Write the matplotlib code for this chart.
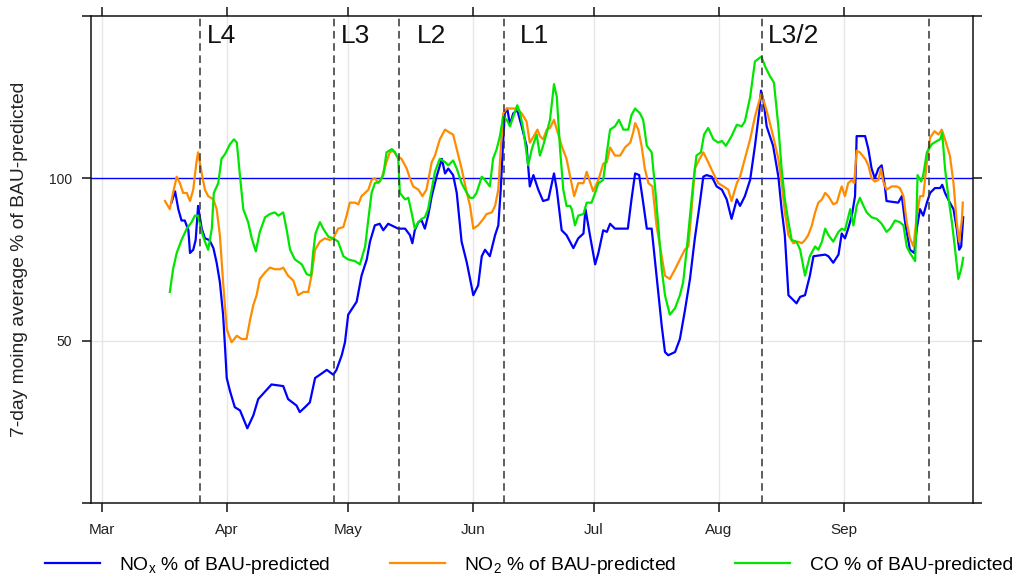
import datetime as dt
import numpy as np
import matplotlib
matplotlib.use("Agg")
import matplotlib.pyplot as plt
import matplotlib.dates as mdates

plt.rcParams["font.family"] = ["Liberation Sans", "DejaVu Sans"]
plt.rcParams["mathtext.fontset"] = "custom"
plt.rcParams["mathtext.rm"] = "Liberation Sans"
plt.rcParams["mathtext.it"] = "Liberation Sans:italic"

START = dt.datetime(2020, 3, 1)

# days after 1 March 2020, 7-day moving averages (% of BAU-predicted)
nox_days = [17.3, 18.2, 19.0, 19.8, 20.6, 21.5, 21.9, 22.7, 23.3, 23.9, 24.8, 25.6, 26.7, 27.7, 28.5,
            29.3, 30.1, 30.6, 31.0, 31.8, 33.0, 34.3, 36.1, 37.6, 38.8, 42.1, 45.0, 46.2, 48.3, 49.1,
            50.4, 51.6, 52.9, 54.1, 55.8, 57.4, 58.2, 59.5, 60.3, 61.1, 62.4, 63.2, 64.4, 65.7, 66.5,
            67.7, 68.9, 69.8, 71.0, 73.5, 75.2, 76.4, 77.0, 77.6, 78.5, 79.3, 80.1, 80.9, 81.8, 83.0,
            84.3, 85.1, 85.9, 87.1, 88.0, 89.2, 90.5, 92.1, 93.3, 94.2, 95.0, 96.2, 97.5, 98.3, 98.9,
            99.4, 99.9, 100.5, 101.2, 102.0, 103.0, 104.1, 105.3, 106.1, 107.0, 108.2, 109.4, 110.7,
            112.1, 112.8, 114.0, 115.2, 116.9, 118.1, 119.4, 119.9, 121.0, 122.3, 123.1, 124.3, 125.2,
            126.0, 127.2, 130.4, 131.3, 132.2, 133.2, 134.2, 135.1, 136.3, 137.5, 138.8, 139.6, 140.4,
            142.1, 143.3, 144.5, 145.8, 147.0, 148.2, 149.1, 149.9, 151.2, 152.4, 153.7, 154.9, 156.1,
            157.4, 158.2, 159.4, 160.7, 161.9, 163.0, 163.4, 164.0, 164.8, 166.4, 167.7, 168.5, 169.3,
            170.2, 171.4, 172.2, 173.1, 174.3, 175.5, 176.4, 179.3, 180.1, 181.3, 182.6, 183.4, 184.2,
            185.0, 185.9, 186.7, 187.1, 189.2, 190.0, 190.8, 191.6, 192.5, 193.3, 194.1, 194.5, 197.4,
            198.3, 199.1, 200.3, 201.4, 202.0, 202.8, 203.6, 204.5, 205.3, 206.5, 207.8, 208.3, 209.0,
            210.2, 211.1, 211.9, 212.5, 213.0, 213.5]
nox_vals = [92.5, 96, 90.5, 87, 87, 84, 77, 78, 81, 91.5, 84.5, 81.5, 81, 78.5, 74,
            68, 58, 47.5, 38.5, 34.5, 29.5, 28.5, 23, 27, 32, 36.5, 36, 32, 30, 28,
            29.5, 31, 38.5, 39.5, 41, 39.5, 41, 45.5, 49.5, 58, 60.5, 62, 70, 75, 80.5,
            85.5, 86, 84, 86, 84.5, 84.5, 82.5, 80, 84, 86.5, 87, 84.5, 88.5, 94.5, 100.5,
            106, 101.5, 103, 101, 95.5, 80.5, 74, 64, 67, 76, 78, 76, 82.5, 85.5, 96.5,
            109, 120, 121.5, 116.5, 120, 121, 116, 110, 97.5, 101, 96.5, 93, 93.5,
            101.5, 96.5, 84, 82.5, 78.5, 81.5, 83, 90.5, 82.5, 73.5, 77, 84, 83.5,
            86, 84.5, 84.5, 93.5, 101.5, 101, 92.5, 84.5, 84.5, 70, 54.5, 46.5, 45.5,
            46.5, 50.5, 59, 69, 81.5, 92, 100.5, 101, 100.5, 97.5, 96.5, 93.5, 87.5,
            93.5, 91.5, 94.5, 99.5, 110, 121, 127, 124, 116, 110, 100.5, 90.5, 82.5,
            64, 62.5, 61.5, 63.5, 64, 70, 76, 76.5, 76, 74, 76.5, 83, 81.5,
            84.5, 88.5, 94.5, 113, 113, 109, 103, 100, 103, 104, 97.5, 93, 92.5,
            94.5, 86.5, 78, 77, 84.5, 90.5, 88.5, 92.5, 95.5, 97, 97, 98, 95.5,
            92.5, 90.5, 84.5, 78, 79, 88]

no2_days = [15.7, 16.9, 17.7, 18.6, 19.4, 20.2, 21.1, 21.9, 22.7, 23.5, 23.9, 24.8, 25.6, 26.4, 27.7,
            28.5, 29.3, 30.1, 31.0, 32.2, 33.5, 34.7, 35.9, 36.8, 37.6, 38.4, 39.2, 40.5, 41.7, 42.9,
            44.2, 45.0, 46.2, 47.5, 48.7, 50.0, 51.2, 52.0, 52.9, 54.1, 55.3, 56.6, 57.4, 58.6, 59.9,
            60.7, 61.5, 62.8, 63.6, 64.4, 65.3, 66.1, 66.9, 67.7, 68.6, 69.5, 70.6, 71.4, 72.3, 73.1,
            74.3, 75.6, 76.4, 77.2, 78.5, 79.5, 80.5, 81.8, 82.6, 83.8, 85.1, 86.3, 87.1, 88.0, 89.2,
            90.5, 91.3, 92.1, 93.3, 94.6, 95.4, 96.7, 97.5, 98.3, 98.9, 99.5, 100.4, 102.9, 104.1,
            105.3, 106.1, 107.1, 108.0, 108.6, 109.4, 110.3, 111.1, 112.1, 112.8, 114.0, 115.2, 116.1,
            117.1, 118.1, 119.4, 120.2, 121.0, 121.8, 123.1, 124.3, 125.2, 126.0, 127.2, 128.5, 129.7,
            131.0, 131.7, 132.2, 133.0, 133.8, 134.6, 135.5, 136.5, 137.5, 138.8, 139.6, 140.8, 142.1,
            143.3, 144.5, 145.4, 146.2, 147.0, 148.2, 149.1, 150.3, 151.6, 152.8, 154.1, 155.3, 156.1,
            157.4, 158.2, 159.4, 160.7, 161.9, 163.0, 163.5, 164.4, 165.2, 166.4, 167.7, 168.5, 169.3,
            170.2, 171.4, 172.6, 173.5, 174.3, 175.1, 176.0, 176.8, 177.6, 178.5, 179.3, 180.1, 181.3,
            182.2, 183.0, 183.4, 184.2, 185.0, 185.9, 186.5, 187.1, 187.9, 189.2, 190.0, 190.8, 191.6,
            192.5, 193.1, 193.7, 194.5, 195.8, 197.0, 197.8, 198.7, 199.5, 200.3, 201.2, 202.0, 202.8,
            203.6, 204.5, 205.3, 206.4, 207.4, 208.2, 209.0, 210.2, 211.1, 211.9, 212.5, 213.2, 213.4]
no2_vals = [93, 90.5, 95.5, 100.5, 98.5, 95.5, 95.5, 93, 96.5, 105, 108, 101.5, 96.5, 94.5, 93.5,
            90.5, 82.5, 68, 53.5, 49.5, 51.5, 50.5, 50.5, 56.5, 61, 64, 69, 71, 72.5, 72,
            72, 72.5, 70, 68.5, 64, 65, 65, 70, 78, 80.5, 81.5, 81, 81.5, 84.5, 85,
            88.5, 92.5, 92.5, 92, 94.5, 95.5, 96.5, 99.5, 100, 98.5, 100.5, 105, 108, 108.5, 107,
            106, 103, 100, 97.5, 96.5, 94.5, 96.5, 105, 107, 112, 115, 114, 113.5, 109, 103,
            95.5, 91.5, 84.5, 85.5, 87.5, 89, 89.5, 91.5, 96.5, 109, 120, 121.5, 121.5, 120,
            117.5, 111, 113, 115, 113, 112, 115, 115.5, 118, 115, 110, 106, 100.5,
            94.5, 98.5, 98.5, 102, 99, 96, 99.5, 104.5, 105, 109.5, 107, 107, 109.5,
            111, 114, 117, 115, 110, 103, 98.5, 97.5, 85.5, 76, 70, 69, 72,
            75, 78, 79, 90.5, 103, 106, 108, 105, 101.5, 98.5, 97.5, 96.5, 93,
            98.5, 100.5, 106, 112, 119, 124, 126, 122.5, 119, 113, 106, 98.5, 89.5,
            82.5, 80, 80.5, 80, 81, 82.5, 85.5, 89.5, 92.5, 93.5, 95.5, 94.5, 92,
            92.5, 96, 97.5, 94.5, 98.5, 99.5, 98.5, 108.5, 108, 106, 104, 100, 99,
            99.5, 103, 99, 96.5, 97.5, 97.5, 97, 94.5, 86.5, 81.5, 79, 88.5, 94.5,
            94.5, 105, 112.5, 114.5, 113.5, 115, 112, 107, 98.5, 86.5, 80.5, 87.5, 92.5]

co_days = [16.9, 17.7, 18.6, 19.8, 21.1, 22.3, 23.1, 23.9, 24.8, 25.6, 26.4, 27.3, 27.8, 28.9, 29.7,
           30.6, 31.8, 32.8, 33.5, 34.3, 35.1, 36.3, 37.2, 38.2, 39.2, 40.5, 41.7, 42.9, 43.8, 45.0,
           45.8, 46.7, 47.9, 49.6, 50.8, 51.9, 52.4, 53.0, 54.1, 54.9, 56.2, 57.4, 58.6, 59.9, 61.1,
           62.8, 64.0, 65.3, 66.1, 66.9, 67.7, 68.9, 69.8, 70.6, 71.9, 72.7, 73.5, 73.9, 75.2, 76.0,
           76.8, 77.6, 78.5, 79.3, 80.1, 80.9, 81.8, 82.6, 83.8, 85.1, 85.9, 87.1, 88.0, 89.2, 90.5,
           91.3, 92.1, 92.9, 94.2, 95.0, 96.2, 97.0, 97.9, 98.7, 99.5, 100.4, 101.2, 102.0, 103.0,
           103.7, 104.5, 105.7, 106.6, 107.8, 108.6, 109.4, 110.3, 111.1, 112.1, 112.8, 113.6, 114.4,
           115.2, 116.1, 116.5, 117.3, 118.1, 119.4, 120.2, 121.4, 122.3, 123.1, 124.3, 125.2, 126.0,
           127.2, 128.2, 129.3, 130.5, 131.3, 132.2, 133.4, 134.2, 135.1, 136.3, 137.2, 138.0, 138.8,
           139.6, 140.8, 142.1, 143.3, 144.1, 144.9, 145.8, 146.6, 147.4, 148.5, 149.3, 150.3, 151.6,
           152.8, 153.7, 154.7, 156.1, 157.4, 158.6, 159.4, 160.7, 161.9, 163.5, 164.4, 165.6, 166.6,
           167.7, 168.5, 169.3, 170.2, 171.0, 172.2, 173.1, 174.3, 175.5, 176.8, 177.6, 178.5, 179.3,
           180.1, 181.3, 182.6, 183.4, 184.2, 185.5, 186.3, 187.1, 187.9, 188.8, 189.6, 190.8, 192.1,
           193.3, 194.5, 195.4, 196.6, 197.8, 198.7, 199.5, 200.3, 201.6, 202.2, 203.1, 203.6, 204.5,
           205.7, 207.0, 207.8, 208.3, 209.0, 209.8, 210.7, 211.5, 212.3, 213.0, 213.5]
co_vals = [65, 72, 77, 81, 84.5, 86.5, 88.5, 88.5, 83.5, 80.5, 78, 84.5, 95.5, 98.5, 106,
           107.5, 110.5, 112, 111, 100.5, 90.5, 86.5, 81.5, 77.5, 83.5, 88, 89, 89.5, 88.5, 89.5,
           84.5, 78, 75, 73.5, 70.5, 70, 77, 83, 86.5, 84.5, 82, 81.5, 80.5, 76, 75,
           74.5, 73.5, 79, 87.5, 95.5, 98.5, 99, 101, 108, 109, 108, 106, 95.5, 93.5, 94,
           89.5, 84.5, 86.5, 87.5, 88, 90.5, 96.5, 102, 106, 105, 104, 105.5, 103, 98.5, 95.5,
           94, 94, 95.5, 100.5, 99.5, 97.5, 106, 109, 113, 119, 118, 116, 119, 122.5,
           120, 115, 104, 109, 113.5, 107, 110, 114, 118, 129, 125, 109, 96.5,
           91.5, 91.5, 90.5, 85.5, 88.5, 89, 92.5, 92.5, 95.5, 98.5, 99.5, 108, 115,
           116, 118, 115, 115, 119.5, 121.5, 120, 118, 110, 108, 96.5, 84.5, 72,
           64, 58, 60, 64, 68, 77, 88.5, 98.5, 107, 108, 113.5, 115.5, 112,
           111, 111.5, 110, 113, 116.5, 116, 117.5, 125, 136, 137.5, 134.5, 131.5, 129.5,
           116, 103, 93.5, 86.5, 81, 80.5, 78, 70, 76, 79, 78, 80.5, 84.5,
           82.5, 80.5, 83.5, 84.5, 84, 90.5, 85.5, 91.5, 94, 91.5, 89.5, 88, 87.5,
           86, 83.5, 84.5, 87, 86.5, 85.5, 79, 77, 74.5, 101, 99, 101, 108,
           110.5, 111.5, 112, 114, 103, 94.5, 86.5, 78, 69, 72, 75.5]

# policy changes (days after 1 March 2020)
phase_days = [24.4, 57.5, 73.8, 99.6, 163.7, 205.0]
phase_labels = ["L4", "L3", "L2", "L1", "L3/2"]
label_days = [26.0, 59.2, 78.1, 103.7, 165.2]

month_ticks = [dt.datetime(2020, m, 1) for m in range(3, 10)]

series_labels = ["NO$_{\\mathrm{x}}$ % of BAU-predicted",
                 "NO$_2$ % of BAU-predicted",
                 "CO % of BAU-predicted"]
series_colors = ["#0000ff", "#ff8c00", "#00e600"]

base = mdates.date2num(START)

fig = plt.figure(figsize=(10.23, 5.79), dpi=100)
ax = fig.add_axes([0.0887, 0.1313, 0.8623, 0.8411])

for m in month_ticks:
    ax.axvline(m, color="#e6e6e6", lw=1, zorder=0)
ax.axhline(50, color="#e6e6e6", lw=1, zorder=0)
ax.axhline(100, color="#0000ff", lw=1, zorder=1)

handles = []
for d, v, lab, col in zip([nox_days, no2_days, co_days], [nox_vals, no2_vals, co_vals],
                          series_labels, series_colors):
    h, = ax.plot(base + np.array(d), v, color=col, lw=1.6, label=lab, zorder=2)
    handles.append(h)

for d in phase_days:
    ax.axvline(base + d, color="#333333", lw=1.1, ls=(0, (5, 3)), zorder=3)
for d, lab in zip(label_days, phase_labels):
    ax.text(base + d, 141.7, lab, fontsize=19, va="baseline", ha="left", color="#111111")

ax.set_xlim(base - 2.7, base + 215.9)
ax.set_ylim(0, 150)
ax.set_xticks(month_ticks)
ax.xaxis.set_major_formatter(mdates.DateFormatter("%b"))
ax.set_yticks([0, 50, 100, 150])
ax.set_yticklabels(["", "50", "100", ""])
ax.tick_params(axis="both", direction="out", length=6.5, width=1.1, colors="#111111",
               top=True, right=True)
ax.tick_params(axis="x", labelsize=11, pad=8, labelcolor="#222222")
ax.tick_params(axis="y", labelsize=10, pad=7, labelcolor="#222222")
for s in ax.spines.values():
    s.set_linewidth(1.1)
    s.set_color("#111111")

ax.set_ylabel("7-day moing average % of BAU-predicted", fontsize=13.9, color="#222222")
ax.yaxis.set_label_coords(-0.071, 0.5)

fig.legend(handles=handles, loc="center", bbox_to_anchor=(0.517, 0.023), ncol=3,
           frameon=False, fontsize=13.9, handlelength=2.85, handletextpad=1.02,
           columnspacing=3.04, borderaxespad=0, borderpad=0)

fig.savefig("out.png", dpi=100)
